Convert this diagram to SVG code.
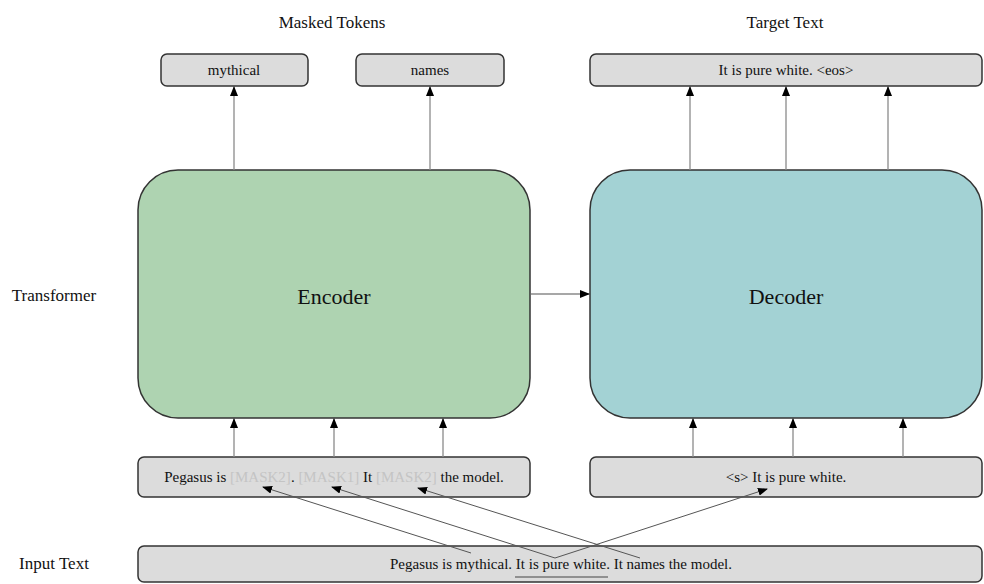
<svg xmlns="http://www.w3.org/2000/svg" width="984" height="584" viewBox="0 0 984 584" font-family="'Liberation Serif', 'Times New Roman', serif">
<style>
  text { font-family: 'Liberation Serif', 'Times New Roman', serif; fill: #111; }
  .lbl { font-size: 17px; text-anchor: middle; }
  .box { fill: #dcdcdc; stroke: #333; stroke-width: 1.5; }
  .btxt { font-size: 15px; text-anchor: middle; }
  .big { font-size: 22px; text-anchor: middle; }
  .mask { fill: #c4c4c4; }
  .conn line { stroke: #8a8a8a; stroke-width: 1.3; fill: none; }
  .cross line { stroke: #555; stroke-width: 1; }
</style>
<defs>
  <marker id="ah" markerUnits="userSpaceOnUse" markerWidth="10" markerHeight="8" refX="9" refY="4" orient="auto">
    <path d="M0,0 L10,4 L0,8 z" fill="#000"/>
  </marker>
</defs>
<rect width="984" height="584" fill="#fff"/>

<g id="labels">
  <text class="lbl" x="332" y="28">Masked Tokens</text>
  <text class="lbl" x="785" y="28">Target Text</text>
  <text class="lbl" x="54" y="301">Transformer</text>
  <text class="lbl" x="54" y="569">Input Text</text>
</g>

<g id="mythical">
  <rect class="box" x="161" y="54" width="147" height="32" rx="6"/>
  <text class="btxt" x="234" y="75">mythical</text>
</g>
<g id="names">
  <rect class="box" x="356" y="54" width="148" height="32" rx="6"/>
  <text class="btxt" x="430" y="75">names</text>
</g>
<g id="target">
  <rect class="box" x="590" y="54" width="392" height="32" rx="6"/>
  <text class="btxt" x="786" y="75">It is pure white. &lt;eos&gt;</text>
</g>

<g id="encoder">
  <rect x="138" y="170" width="392" height="248" rx="40" fill="#aed3b1" stroke="#333" stroke-width="1.5"/>
  <text class="big" x="334" y="304">Encoder</text>
</g>
<g id="decoder">
  <rect x="590" y="170" width="392" height="248" rx="40" fill="#a3d2d4" stroke="#333" stroke-width="1.5"/>
  <text class="big" x="786" y="304">Decoder</text>
</g>

<g id="encoder-input">
  <rect class="box" x="138" y="457" width="392" height="40" rx="6"/>
  <text class="btxt" x="334" y="482">Pegasus is <tspan class="mask">[MASK2]</tspan>. <tspan class="mask">[MASK1]</tspan> It <tspan class="mask">[MASK2]</tspan> the model.</text>
</g>
<g id="decoder-input">
  <rect class="box" x="590" y="457" width="392" height="40" rx="6"/>
  <text class="btxt" x="786" y="482">&lt;s&gt; It is pure white.</text>
</g>
<g id="input-text">
  <rect class="box" x="138" y="546" width="844" height="36" rx="6"/>
  <text class="btxt" x="561" y="569">Pegasus is mythical. It is pure white. It names the model.</text>
  <line x1="515" y1="577" x2="608" y2="577" stroke="#777" stroke-width="1.5"/>
</g>

<g id="connectors" class="conn">
  <line x1="234" y1="170" x2="234" y2="87" marker-end="url(#ah)"/>
  <line x1="430" y1="170" x2="430" y2="87" marker-end="url(#ah)"/>
  <line x1="690" y1="170" x2="690" y2="87" marker-end="url(#ah)"/>
  <line x1="786" y1="170" x2="786" y2="87" marker-end="url(#ah)"/>
  <line x1="888" y1="170" x2="888" y2="87" marker-end="url(#ah)"/>
  <line x1="234" y1="457" x2="234" y2="419" marker-end="url(#ah)"/>
  <line x1="334" y1="457" x2="334" y2="419" marker-end="url(#ah)"/>
  <line x1="443" y1="457" x2="443" y2="419" marker-end="url(#ah)"/>
  <line x1="693" y1="457" x2="693" y2="419" marker-end="url(#ah)"/>
  <line x1="793" y1="457" x2="793" y2="419" marker-end="url(#ah)"/>
  <line x1="903" y1="457" x2="903" y2="419" marker-end="url(#ah)"/>
  <line x1="531" y1="294" x2="589" y2="294" marker-end="url(#ah)"/>
  <g class="cross">
    <line x1="471" y1="553" x2="263" y2="487" marker-end="url(#ah)"/>
    <line x1="555" y1="558" x2="332" y2="487" marker-end="url(#ah)"/>
    <line x1="640" y1="558" x2="418" y2="488" marker-end="url(#ah)"/>
    <line x1="555" y1="558" x2="767" y2="489" marker-end="url(#ah)"/>
  </g>
</g>
</svg>
